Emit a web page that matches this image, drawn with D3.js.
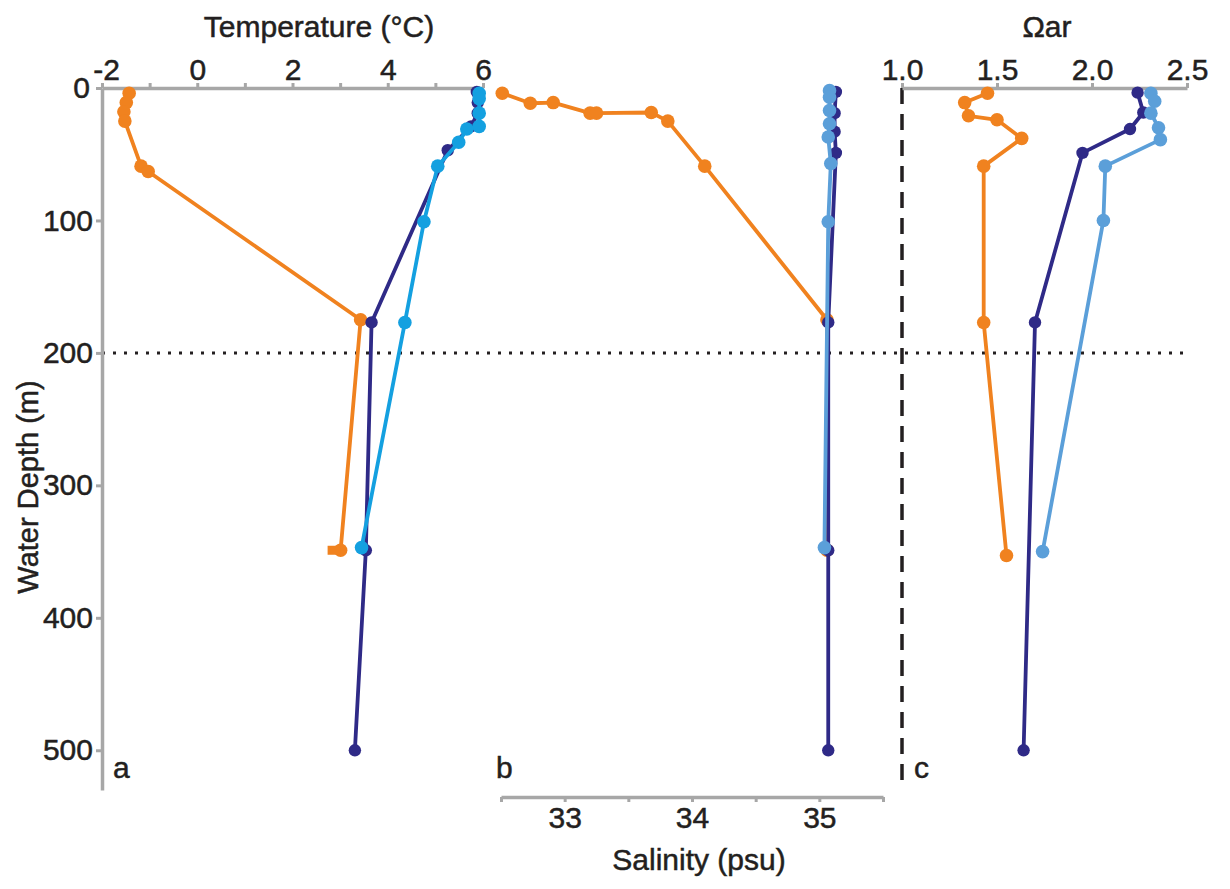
<!DOCTYPE html>
<html>
<head>
<meta charset="utf-8">
<script src="https://cdn.jsdelivr.net/npm/d3@7"></script>
<style>
  body { margin: 0; background: #fff; }
  svg text { font-family: "Liberation Sans", Arial, sans-serif; fill: #231f20; stroke: #231f20; stroke-width: 0.5px; }
</style>
</head>
<body>
<svg id="chart" width="1230" height="889"></svg>
<script>
// panel a: temperature (°C) vs depth (m)
const tempOrangeDepth = [4, 11, 18, 25, 59, 63, 175, 349];
const tempOrange = [-1.43, -1.49, -1.54, -1.52, -1.18, -1.03, 3.43, 3.01];
const tempOrangeCap = [[2.8, 349]];
const tempNavyDepth = [3, 11, 19, 29, 47, 177, 349, 500];
const tempNavy = [5.87, 5.89, 5.89, 5.75, 5.26, 3.66, 3.54, 3.31];
const tempBlueDepth = [4, 8, 19, 29, 31, 41, 59, 101, 177, 347];
const tempBlue = [5.92, 5.92, 5.92, 5.92, 5.66, 5.49, 5.05, 4.76, 4.36, 3.45];

// panel b: salinity (psu)
const salOrangeDepth = [4, 11.5, 11, 19, 19, 18.5, 25, 59, 175, 349];
const salOrange = [32.51, 32.73, 32.91, 33.2, 33.25, 33.68, 33.81, 34.1, 35.06, 35.06];
const salNavyDepth = [3, 19, 33, 49, 177, 349, 500];
const salNavy = [35.13, 35.12, 35.12, 35.13, 35.07, 35.07, 35.07];
const salBlueDepth = [2, 7, 17, 27, 37, 57, 101, 347];
const salBlue = [35.08, 35.08, 35.08, 35.08, 35.07, 35.09, 35.07, 35.04];

// panel c: aragonite saturation
const omOrangeDepth = [4, 11, 21, 24, 38, 59, 177, 353];
const omOrange = [1.45, 1.33, 1.35, 1.5, 1.63, 1.43, 1.43, 1.55];
const omNavyDepth = [3.5, 18.5, 31, 49, 177, 500];
const omNavy = [2.24, 2.27, 2.2, 1.95, 1.7, 1.64];
const omBlueDepth = [4, 10, 19, 30, 39, 59, 100, 350];
const omBlue = [2.31, 2.33, 2.31, 2.35, 2.36, 2.07, 2.06, 1.74];

const depthTicks = [0, 100, 200, 300, 400, 500];
const tempTicks = [-2, -1, 0, 1, 2, 3, 4, 5, 6];
const salTicks = [32.5, 33, 33.5, 34, 34.5, 35, 35.5];
const omTicks = [1.0, 1.5, 2.0, 2.5];

const orange = '#f0821f';
const navy = '#2f2a87';
const blueA = '#14a0e0';
const blueBC = '#5b9fd9';
const grey = '#a7a7a7';

const svg = d3.select('#chart');

const y = d3.scaleLinear().domain([0, 530]).range([88, 790]);
const xT = d3.scaleLinear().domain([-2, 6]).range([102, 483]);
const xS = d3.scaleLinear().domain([32.5, 35.5]).range([501, 883]);
const xO = d3.scaleLinear().domain([1, 2.5]).range([902, 1187]);

function styleAxis(g) {
  g.select('.domain').attr('stroke', grey).attr('stroke-width', 3.5);
  g.selectAll('.tick line').attr('stroke', grey).attr('stroke-width', 3);
  g.selectAll('.tick text').style('font-size', '30px').attr('fill', '#231f20');
}

// reference lines
svg.append('line')
  .attr('x1', xT(-2)).attr('x2', xO(2.5))
  .attr('y1', y(200)).attr('y2', y(200))
  .attr('stroke', '#231f20').attr('stroke-width', 3)
  .attr('stroke-dasharray', '3,8');
svg.append('line')
  .attr('x1', xO(1)).attr('x2', xO(1))
  .attr('y1', y(0)).attr('y2', 782)
  .attr('stroke', '#231f20').attr('stroke-width', 3.5)
  .attr('stroke-dasharray', '16,10');

// axes
svg.append('g')
  .attr('transform', `translate(${xT(-2)},0)`)
  .call(d3.axisLeft(y).tickValues(depthTicks).tickSize(6).tickSizeOuter(0).tickPadding(3).tickFormat(d3.format('d')))
  .call(styleAxis)
  .call(g => g.selectAll('.tick text').filter(d => d === 0).attr('dx', -3));

svg.append('g')
  .attr('transform', `translate(0,${y(0)})`)
  .call(d3.axisTop(xT).tickValues(tempTicks).tickSize(5).tickSizeOuter(0).tickPadding(3)
    .tickFormat(d => (d % 2 === 0 ? String(d) : '')))
  .call(styleAxis)
  .call(g => g.selectAll('.tick text').filter(d => d === -2).attr('dx', 4));

svg.append('g')
  .attr('transform', 'translate(0,797)')
  .call(d3.axisBottom(xS).tickValues(salTicks).tickSize(5).tickSizeOuter(0).tickPadding(5)
    .tickFormat(d => (Number.isInteger(d) ? String(d) : '')))
  .call(styleAxis);

svg.append('g')
  .attr('transform', `translate(0,${y(0)})`)
  .call(d3.axisTop(xO).tickValues(omTicks).tickSize(5).tickSizeOuter(0).tickPadding(3).tickFormat(d3.format('.1f')))
  .call(styleAxis);

// profiles
function profile(xs, vals, depths, color, r) {
  const pts = vals.map((v, i) => [xs(v), y(depths[i])]);
  svg.append('path')
    .attr('d', d3.line()(pts))
    .attr('fill', 'none').attr('stroke', color).attr('stroke-width', 3.8)
    .attr('stroke-linejoin', 'round');
  svg.append('g').selectAll('circle')
    .data(pts).join('circle')
    .attr('cx', d => d[0]).attr('cy', d => d[1]).attr('r', r)
    .attr('fill', color);
}

profile(xT, tempOrange, tempOrangeDepth, orange, 6.8);
svg.append('g').selectAll('rect')
  .data(tempOrangeCap).join('rect')
  .attr('x', d => xT(d[0]) - 3).attr('y', d => y(d[1]) - 4.5)
  .attr('width', xT(3.01) - xT(2.8) + 3).attr('height', 9)
  .attr('fill', orange);
profile(xT, tempNavy, tempNavyDepth, navy, 6.2);
profile(xT, tempBlue, tempBlueDepth, blueA, 6.8);

profile(xS, salOrange, salOrangeDepth, orange, 6.8);
profile(xS, salNavy, salNavyDepth, navy, 6.2);
profile(xS, salBlue, salBlueDepth, blueBC, 6.8);

profile(xO, omOrange, omOrangeDepth, orange, 6.8);
profile(xO, omNavy, omNavyDepth, navy, 6.2);
profile(xO, omBlue, omBlueDepth, blueBC, 6.8);

// titles
svg.append('text').attr('x', 319).attr('y', 37).attr('text-anchor', 'middle')
  .style('font-size', '30px').text('Temperature (°C)');
svg.append('text').attr('x', 1047).attr('y', 37).attr('text-anchor', 'middle')
  .style('font-size', '30px').text('Ωar');
svg.append('text').attr('x', 699).attr('y', 870).attr('text-anchor', 'middle')
  .style('font-size', '30px').text('Salinity (psu)');
svg.append('text')
  .attr('transform', 'translate(38,487) rotate(-90)')
  .attr('text-anchor', 'middle')
  .style('font-size', '29px').text('Water Depth (m)');

// panel letters
[['a', 113], ['b', 496], ['c', 914]].forEach(([t, x]) => {
  svg.append('text').attr('x', x).attr('y', 778).style('font-size', '30px').text(t);
});
</script>
</body>
</html>
